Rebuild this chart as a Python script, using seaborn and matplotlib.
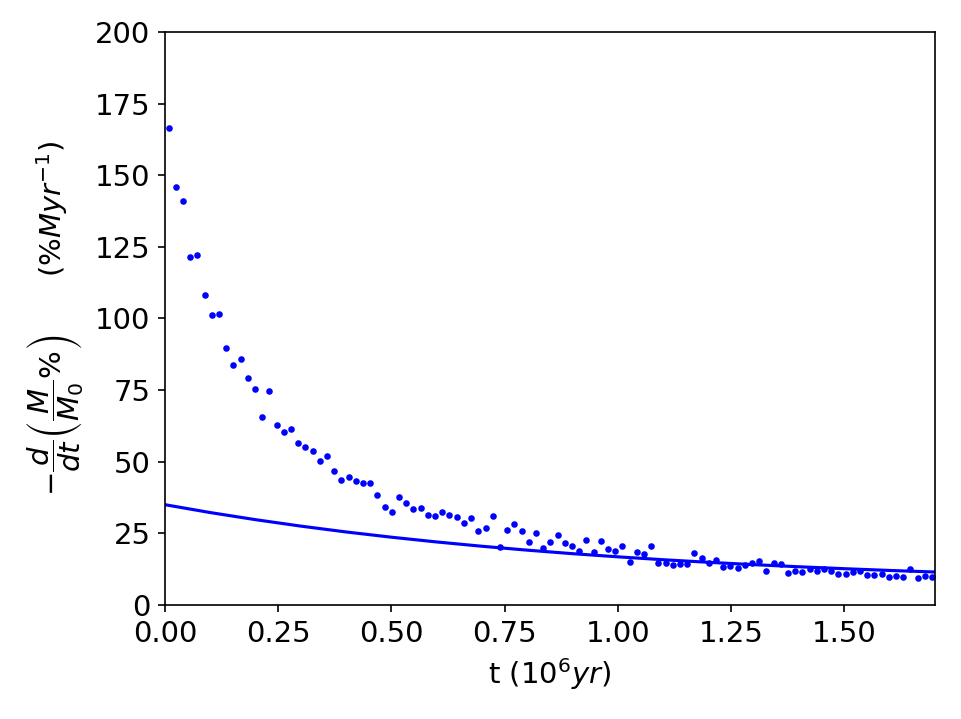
import numpy as np
import pandas as pd
import matplotlib
matplotlib.use("Agg")
import matplotlib.pyplot as plt
import seaborn as sns

# time step of the sampled mass-loss rate (Myr), points sit at bin centres
dt = 0.0159
n_points = 107

# measured mass-loss rate (% per Myr)
rate = [166.6, 146.0, 141.1, 121.6, 122.2, 108.2, 101.3, 101.7, 89.6, 83.7,
        86.0, 79.2, 75.3, 65.7, 74.6, 62.8, 60.5, 61.4, 56.6, 55.3,
        53.6, 50.1, 52.1, 46.9, 43.6, 44.6, 43.3, 42.4, 42.4, 38.4,
        34.2, 32.5, 37.8, 35.5, 33.5, 33.9, 31.5, 31.0, 32.6, 31.3,
        30.6, 28.6, 30.3, 25.7, 27.0, 31.0, 20.1, 26.3, 28.3, 25.9,
        22.1, 25.0, 19.8, 22.1, 24.3, 21.7, 20.7, 18.8, 22.8, 18.5,
        22.4, 19.4, 18.8, 20.5, 14.9, 18.5, 17.9, 20.5, 14.8, 14.5,
        13.8, 14.2, 14.2, 18.2, 16.3, 14.5, 15.7, 13.2, 13.6, 12.9,
        14.0, 14.5, 15.2, 12.0, 14.7, 14.4, 11.1, 12.0, 11.4, 12.5,
        12.0, 12.6, 11.9, 10.7, 10.7, 11.4, 12.0, 10.4, 10.4, 10.7,
        9.7, 10.2, 9.7, 12.6, 9.4, 10.0, 9.7]

# model curve
model_t = [0.0, 0.1, 0.2, 0.3, 0.4, 0.5, 0.6, 0.7, 0.8, 0.9,
           1.0, 1.1, 1.2, 1.3, 1.4, 1.5, 1.6, 1.7]
model_rate = [35.0, 32.25, 29.77, 27.52, 25.48, 23.65, 21.99, 20.49, 19.13, 17.90,
              16.80, 15.79, 14.89, 14.07, 13.33, 12.66, 12.05, 11.50]

t = (np.arange(n_points) + 0.5) * dt
df = pd.DataFrame({'t': t, 'rate': rate})
model_df = pd.DataFrame({'t': model_t, 'rate': model_rate})

fig, ax = plt.subplots(figsize=(961 / 150, 719 / 150), dpi=150)
fig.subplots_adjust(left=0.1717, right=0.973, top=0.9555, bottom=0.1586)

sns.scatterplot(data=df, x='t', y='rate', color='blue', s=10, linewidth=0, ax=ax)
sns.lineplot(data=model_df, x='t', y='rate', color='blue', linewidth=1.5, ax=ax)

ax.set_xlim(0, 1.7)
ax.set_ylim(0, 200)
ax.set_xticks([0, 0.25, 0.5, 0.75, 1.0, 1.25, 1.5])
ax.tick_params(labelsize=14)

ax.set_xlabel(r't ($10^6 yr$)', fontsize=14)
ax.set_ylabel(r'$-\dfrac{d}{dt}\left(\dfrac{M}{M_0}\%\right)$      $(\% Myr^{-1})$', fontsize=14)

plt.savefig('out.png', dpi=150, facecolor='white')
